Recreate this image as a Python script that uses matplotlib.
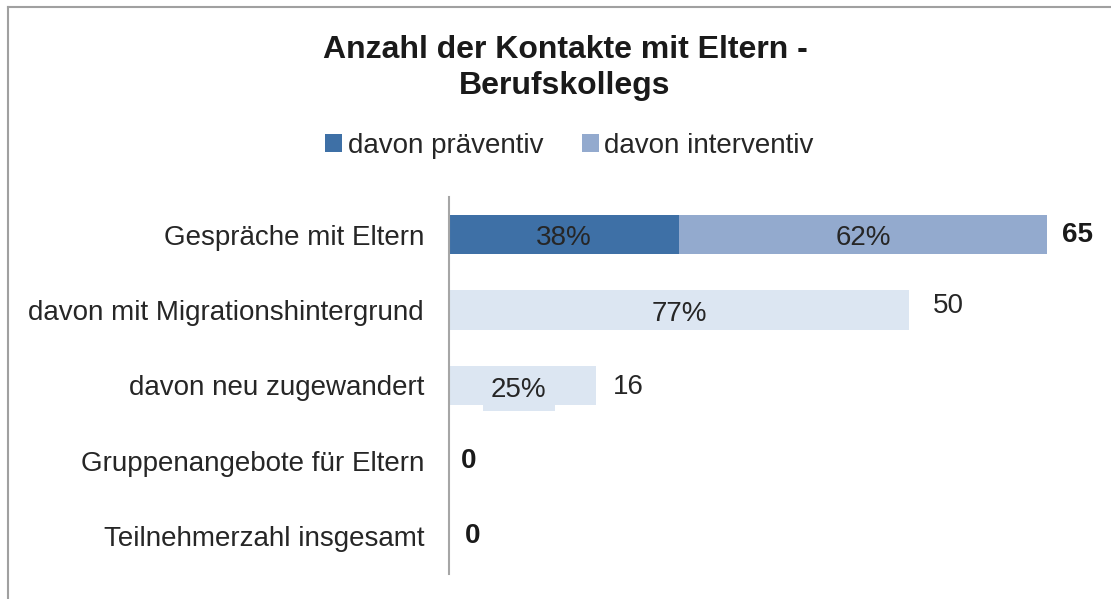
import matplotlib
matplotlib.use("Agg")
import matplotlib.pyplot as plt
from matplotlib.patches import Patch
from matplotlib.lines import Line2D

plt.rcParams['font.family'] = ['Liberation Sans Narrow', 'Liberation Sans', 'DejaVu Sans']

title = "Anzahl der Kontakte mit Eltern -\nBerufskollegs"
categories = ["Gespräche mit Eltern", "davon mit Migrationshintergrund",
              "davon neu zugewandert", "Gruppenangebote für Eltern",
              "Teilnehmerzahl insgesamt"]
totals = [65, 50, 16, 0, 0]
praeventiv = 25
interventiv = 40
legend_labels = ["davon präventiv", "davon interventiv"]
pct_labels = ["38%", "62%", "77%", "25%"]
total_bold = [True, False, False, True, True]

c_dark = "#3e70a6"
c_mid = "#93aace"
c_light = "#dce6f2"
txt = "#262626"

W, H = 1111, 599
fig = plt.figure(figsize=(W / 100, H / 100), dpi=100)
fig.patch.set_facecolor("white")

# figure frame (left + top visible)
fig.add_artist(Line2D([8 / W, 8 / W], [0, 1 - 7 / H], color="#a0a0a0", lw=1.5))
fig.add_artist(Line2D([8 / W, 1.0], [1 - 7 / H, 1 - 7 / H], color="#a0a0a0", lw=1.5))

ax_l, ax_r = 449, 1047
ax_t, ax_b = 197, 574
ax = fig.add_axes([ax_l / W, 1 - ax_b / H, (ax_r - ax_l) / W, (ax_b - ax_t) / H])

y = list(range(len(categories)))
bh = 0.52
# row 0 stacked
ax.barh(0, praeventiv, height=bh, color=c_dark)
ax.barh(0, interventiv, left=praeventiv, height=bh, color=c_mid)
# rows 1,2
ax.barh(1, totals[1], height=bh, color=c_light)
ax.barh(2, totals[2], height=bh, color=c_light)

fs = 20
ax.text(praeventiv / 2, 0.05, pct_labels[0], ha="center", va="center", fontsize=fs, color=txt)
ax.text(praeventiv + interventiv / 2, 0.05, pct_labels[1], ha="center", va="center", fontsize=fs, color=txt)
ax.text(totals[1] / 2, 1.05, pct_labels[2], ha="center", va="center", fontsize=fs, color=txt)
ax.text(totals[2] / 2 - 0.4, 2.06, pct_labels[3], ha="center", va="center", fontsize=fs, color=txt,
        bbox=dict(boxstyle="square,pad=0.28", facecolor=c_light, edgecolor="none"))

offsets = [1.6, 2.6, 1.8, 1.3, 1.7]
yoff = [0.0, -0.06, 0.02, 0.0, 0.0]
for i, (t, b) in enumerate(zip(totals, total_bold)):
    ax.text(t + offsets[i], i + yoff[i], str(t), ha="left", va="center",
            fontsize=fs, color="#1a1a1a" if b else txt,
            fontweight="bold" if b else "normal", clip_on=False)

ax.set_xlim(0, 65)
ax.set_ylim(len(categories) - 0.5, -0.5)
ax.set_yticks(y)
ax.set_yticklabels(categories, fontsize=fs, color=txt)
ax.tick_params(axis="y", length=0, pad=18)
ax.set_xticks([])
for s in ["top", "right", "bottom"]:
    ax.spines[s].set_visible(False)
ax.spines["left"].set_color("#a6a6a6")
ax.spines["left"].set_linewidth(1.5)

fig.text(565 / W, 1 - 68 / H, title, ha="center", va="center", fontsize=23,
         fontweight="bold", color="#1a1a1a", linespacing=1.3)

handles = [Patch(facecolor=c_dark), Patch(facecolor=c_mid)]
fig.legend(handles, legend_labels, loc="center", bbox_to_anchor=(569.5 / W, 1 - 146 / H),
           ncol=2, frameon=False, fontsize=fs, handlelength=0.6, handleheight=0.6,
           handletextpad=0.2, columnspacing=1.4, labelcolor=txt)

fig.savefig("out.png", dpi=100, facecolor="white")
